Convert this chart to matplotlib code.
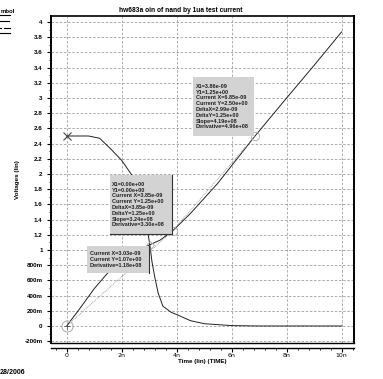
import matplotlib
matplotlib.use("Agg")
import matplotlib.pyplot as plt
from matplotlib.lines import Line2D
from matplotlib.patches import Rectangle
from matplotlib.ticker import MultipleLocator, FuncFormatter

# ---- data (time in ns, voltage in V) ----
ramp_t = [0, 0.5, 1.0, 1.5, 2.0, 2.5, 3.03, 3.4, 3.85, 4.5, 5.5, 6.85, 8.0, 9.0, 10.0]
ramp_v = [0, 0.24, 0.49, 0.70, 0.85, 0.97, 1.07, 1.13, 1.25, 1.48, 1.88, 2.50, 3.00, 3.43, 3.87]

fall_t = [0, 0.8, 1.2, 1.6, 2.0, 2.4, 2.7, 2.9, 3.0, 3.05, 3.1, 3.2, 3.33, 3.5, 3.8,
          4.0, 4.5, 5.0, 6.0, 7.0, 10.0]
fall_v = [2.5, 2.5, 2.47, 2.33, 2.18, 1.97, 1.65, 1.35, 1.12, 1.0, 0.85, 0.65, 0.43, 0.26,
          0.18, 0.15, 0.07, 0.03, 0.005, 0.0, 0.0]

cursor_a_t = [0, 3.85]
cursor_a_v = [0, 1.25]
cursor_b_t = [3.85, 6.85]
cursor_b_v = [1.25, 2.50]
point_t = [3.03]
point_v = [1.07]
x_marker_t = [0]
x_marker_v = [2.5]

box1_lines = ["X1=3.86e-09", "Y1=1.25e+00", "Current X=6.85e-09", "Current Y=2.50e+00",
              "DeltaX=2.99e-09", "DeltaY=1.25e+00", "Slope=4.19e+08", "Derivative=4.96e+08"]
box2_lines = ["X1=0.00e+00", "Y1=0.00e+00", "Current X=3.85e-09", "Current Y=1.25e+00",
              "DeltaX=3.85e-09", "DeltaY=1.25e+00", "Slope=3.24e+08", "Derivative=3.30e+08"]
box3_lines = ["Current X=3.03e-09", "Current Y=1.07e+00", "Derivative=1.18e+08"]

title = "hw683a oin of nand by 1ua test current"
xlabel = "Time (lin) (TIME)"
ylabel = "Voltages (lin)"
date_text = "28/2006"
legend_head = "mbol"

W, H = 383, 379
FONT = "Liberation Sans"

fig = plt.figure(figsize=(W / 100, H / 100), dpi=100)
fig.patch.set_facecolor("white")

L, R, T, B = 51, 354, 16, 343
ax = fig.add_axes([L / W, 1 - B / H, (R - L) / W, (B - T) / H])

ax.set_xlim(-0.57, 10.45)
ax.set_ylim(-0.224, 4.079)

ax.xaxis.set_major_locator(MultipleLocator(2))
ax.xaxis.set_minor_locator(MultipleLocator(0.4))
ax.yaxis.set_major_locator(MultipleLocator(0.2))
ax.yaxis.set_minor_locator(MultipleLocator(0.1))


def xfmt(v, pos):
    v = round(v, 6)
    if abs(v) < 1e-9:
        return "0"
    return f"{v:g}n"


def yfmt(v, pos):
    v = round(v, 6)
    if abs(v) < 1e-9:
        return "0"
    if abs(v) < 1:
        return f"{v * 1000:g}m"
    return f"{v:g}"


ax.xaxis.set_major_formatter(FuncFormatter(xfmt))
ax.yaxis.set_major_formatter(FuncFormatter(yfmt))

ax.tick_params(axis="both", which="major", labelsize=4.5, length=3, width=0.8,
               direction="out", colors="black")
ax.tick_params(axis="both", which="minor", length=1.6, width=0.6, direction="out")
ax.tick_params(axis="x", pad=1.2)
ax.tick_params(axis="y", pad=3)
for lab in ax.get_xticklabels() + ax.get_yticklabels():
    lab.set_fontfamily(FONT)
    lab.set_fontweight("bold")

ax.grid(True, which="major", color="#a0a0a0", linestyle=(0, (3, 2)), linewidth=0.6)
ax.set_axisbelow(True)

ax.spines["left"].set_linewidth(1.4)
ax.spines["top"].set_linewidth(1.2)
ax.spines["right"].set_linewidth(1.4)
ax.spines["bottom"].set_position(("outward", 3.3))
ax.spines["bottom"].set_linewidth(1.0)
ax.plot([0, 1], [0, 0], transform=ax.transAxes, color="black", lw=1.0, clip_on=False, zorder=5)

# curves
ax.plot(ramp_t, ramp_v, color="#222222", lw=0.7, zorder=3)
ax.plot(fall_t, fall_v, color="#222222", lw=0.7, zorder=3)
ax.plot(cursor_a_t, cursor_a_v, color="#8a8a8a", lw=0.6, ls=(0, (1, 1.2)), zorder=3)
ax.plot(cursor_b_t, cursor_b_v, color="#8a8a8a", lw=0.6, ls=(0, (1, 1.2)), zorder=3)

# markers
ax.plot(x_marker_t, x_marker_v, marker="x", ms=6, mew=0.8, color="#444444", ls="none", zorder=4)
ax.plot(cursor_a_t[:1], cursor_a_v[:1], marker="o", ms=8, mfc="none", mec="#aaaaaa",
        mew=0.7, ls="none", zorder=4)
ax.plot(cursor_a_t[:1], cursor_a_v[:1], marker="+", ms=4, color="#555555", mew=0.6, ls="none", zorder=4)
ax.plot(cursor_b_t, cursor_b_v, marker="o", ms=6, mfc="none", mec="#aaaaaa", mew=0.6,
        ls="none", zorder=4)
ax.plot(point_t, point_v, marker="D", ms=4, mfc="none", mec="#aaaaaa", mew=0.6, ls="none", zorder=4)


def fx(px):
    return px / W


def fy(py):
    return 1 - py / H


def draw_box(x0, y0, x1, y1, lines, text_x, right_edge=False, bottom_edge=False):
    fig.patches.append(Rectangle((fx(x0), fy(y1)), fx(x1) - fx(x0), fy(y0) - fy(y1),
                                 transform=fig.transFigure, facecolor="#d3d3d3",
                                 edgecolor="none", zorder=10))
    if right_edge:
        fig.add_artist(Line2D([fx(x1), fx(x1)], [fy(y0), fy(y1)], color="#333333", lw=0.8,
                              transform=fig.transFigure, zorder=11))
    if bottom_edge:
        fig.add_artist(Line2D([fx(x0), fx(x1)], [fy(y1), fy(y1)], color="#333333", lw=0.8,
                              transform=fig.transFigure, zorder=11))
    fig.text(fx(text_x), fy((y0 + y1) / 2), "\n".join(lines), fontsize=4.0, fontfamily=FONT,
             fontweight="bold", color="#222222", ha="left", va="center", linespacing=1.2,
             zorder=12)


draw_box(193, 77, 254, 136, box1_lines, 195.5)
draw_box(110, 175, 172, 234, box2_lines, 112, right_edge=True, bottom_edge=True)
draw_box(87, 246, 149, 273, box3_lines, 90, right_edge=True)

# texts
fig.text(fx(181), fy(10), title, fontsize=4.8, fontfamily=FONT, fontweight="bold",
         ha="center", va="center")
fig.text(fx(202), fy(361), xlabel, fontsize=4.5, fontfamily=FONT, fontweight="bold",
         ha="center", va="center")
fig.text(fx(18), fy(180), ylabel, fontsize=4.5, fontfamily=FONT, fontweight="bold",
         ha="center", va="center", rotation=90)
fig.text(fx(0), fy(372), date_text, fontsize=5, fontfamily=FONT, fontweight="bold",
         ha="left", va="center")

# partial legend at top-left
fig.text(fx(0.3), fy(11.5), legend_head, fontsize=4.3, fontfamily=FONT, fontweight="bold",
         ha="left", va="center")
for (xa, xb, yy) in [(0, 10, 14.5), (0, 9, 20.5), (4, 9.5, 28), (0, 10, 33.3)]:
    fig.add_artist(Line2D([fx(xa), fx(xb)], [fy(yy), fy(yy)], color="black", lw=0.8,
                          transform=fig.transFigure))
fig.add_artist(Line2D([fx(0), fx(1.5)], [fy(28), fy(28)], color="black", lw=0.8,
                      transform=fig.transFigure))

fig.savefig("out.png", dpi=100)
